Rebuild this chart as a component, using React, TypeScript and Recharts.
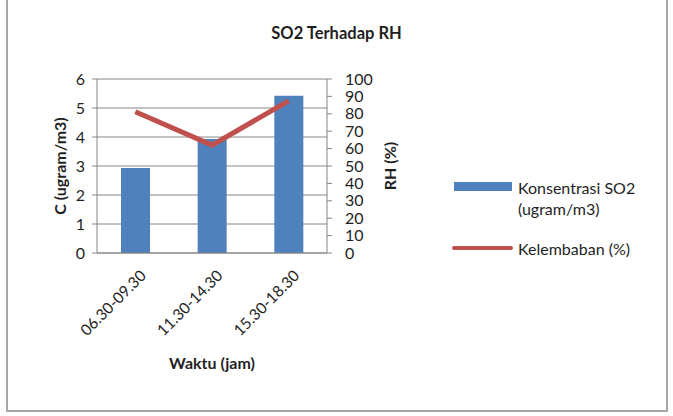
import { ComposedChart, Bar, Line, XAxis, YAxis, CartesianGrid } from "recharts";

const waktu = ["06.30-09.30", "11.30-14.30", "15.30-18.30"];
const konsentrasiSO2 = [2.93, 3.93, 5.42];
const kelembaban = [81.2, 62, 87.4];
const leftTicks = [0, 1, 2, 3, 4, 5, 6];
const rightTicks = [0, 10, 20, 30, 40, 50, 60, 70, 80, 90, 100];

const BLUE = "#4F81BD";
const RED = "#C0504D";
const GRID = "#868686";
const TEXT = "#1f1f1f";
const FONT = "Lato, 'Open Sans', sans-serif";

const data = waktu.map((w, i) => ({
  waktu: w,
  so2: konsentrasiSO2[i],
  rh: kelembaban[i],
}));

const RotatedTick = (props: any) => {
  const { x, y, payload } = props;
  return (
    <g transform={`translate(${x + 4},${y + 8})`}>
      <text
        x={0}
        y={0}
        dy="0.7em"
        textAnchor="end"
        transform="rotate(-45)"
        fontSize={15.5}
        fill={TEXT}
        fontFamily={FONT}
      >
        {payload.value}
      </text>
    </g>
  );
};

const boldLabel = { fontWeight: "bold", fontSize: 16, fill: TEXT, fontFamily: FONT };

const App = () => {
  return (
    <div style={{ position: "absolute", left: 0, top: 0, width: 673, height: 416, background: "#fff", fontFamily: FONT }}>
      <div
        style={{
          position: "absolute",
          left: 6,
          top: -4,
          width: 662,
          height: 416,
          border: "2px solid #a6a6a6",
          boxSizing: "border-box",
        }}
      />
      <div
        style={{
          position: "absolute",
          left: 0,
          width: 673,
          top: 23,
          textAlign: "center",
          fontWeight: "bold",
          fontSize: 16.5,
          color: TEXT,
        }}
      >
        SO2 Terhadap RH
      </div>
      <div style={{ position: "absolute", left: 0, top: 0 }}>
        <ComposedChart
          width={673}
          height={416}
          data={data}
          margin={{ top: 79, right: 276, bottom: 0, left: 0 }}
        >
          <CartesianGrid vertical={false} stroke={GRID} horizontalValues={leftTicks} yAxisId="left" />
          <XAxis
            dataKey="waktu"
            height={163}
            tick={<RotatedTick />}
            tickLine={false}
            axisLine={{ stroke: GRID }}
            interval={0}
            label={{
              value: "Waktu (jam)",
              position: "insideBottom",
              offset: 47,
              style: boldLabel,
            }}
          />
          <YAxis
            yAxisId="left"
            width={97}
            domain={[0, 6]}
            ticks={leftTicks}
            tick={{ fontSize: 16, fill: TEXT, fontFamily: FONT }}
            tickSize={5}
            tickMargin={7}
            tickLine={{ stroke: GRID }}
            axisLine={{ stroke: GRID }}
            label={{
              value: "C (ugram/m3)",
              angle: -90,
              position: "center",
              dx: 12,
              style: { ...boldLabel, textAnchor: "middle" },
            }}
          />
          <YAxis
            yAxisId="right"
            orientation="right"
            width={70}
            domain={[0, 100]}
            ticks={rightTicks}
            interval={0}
            tick={{ fontSize: 16, fill: TEXT, fontFamily: FONT }}
            tickSize={5}
            tickMargin={13}
            tickLine={{ stroke: GRID }}
            axisLine={{ stroke: GRID }}
            label={{
              value: "RH (%)",
              angle: -90,
              position: "center",
              dx: 28,
              style: { ...boldLabel, textAnchor: "middle" },
            }}
          />
          <Bar yAxisId="left" dataKey="so2" fill={BLUE} barSize={29} isAnimationActive={false} />
          <Line
            yAxisId="right"
            dataKey="rh"
            stroke={RED}
            strokeWidth={5}
            dot={false}
            type="linear"
            isAnimationActive={false}
          />
        </ComposedChart>
      </div>
      <div style={{ position: "absolute", left: 454, top: 182, width: 58, height: 9, background: BLUE }} />
      <div style={{ position: "absolute", left: 518, top: 177, fontSize: 16, color: TEXT, lineHeight: "21px" }}>
        Konsentrasi SO2
        <br />
        (ugram/m3)
      </div>
      <div style={{ position: "absolute", left: 452, top: 246, width: 61, height: 4, background: RED, borderRadius: 2 }} />
      <div style={{ position: "absolute", left: 518, top: 238, fontSize: 16, color: TEXT, lineHeight: "21px" }}>
        Kelembaban (%)
      </div>
    </div>
  );
};

export default App;
